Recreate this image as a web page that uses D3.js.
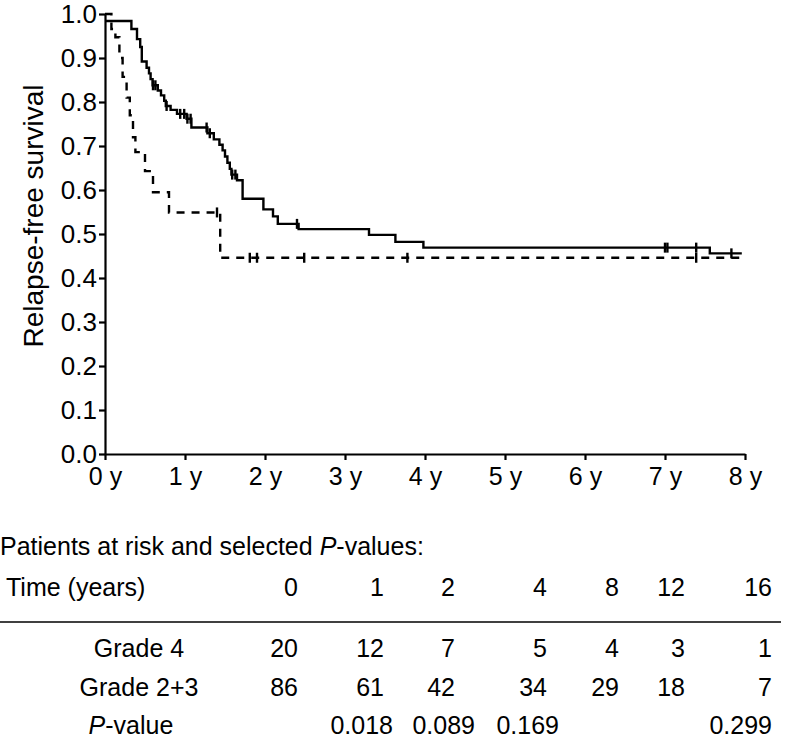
<!DOCTYPE html>
<html>
<head>
<meta charset="utf-8">
<script src="https://cdn.jsdelivr.net/npm/d3@7"></script>
<style>
  body { margin: 0; background: #fff; }
  svg text { font-family: "Liberation Sans", Arial, sans-serif; fill: #000; }
</style>
</head>
<body>
<div id="chart"></div>
<script>
// Kaplan-Meier steps (time in years, survival after the step)
const grade23Time = [0, 0.33, 0.40, 0.44, 0.46, 0.52, 0.55, 0.57, 0.595, 0.66, 0.70, 0.74, 0.76, 0.82, 0.90,
  1.02, 1.08, 1.28, 1.36, 1.43, 1.47, 1.50, 1.53, 1.56, 1.58, 1.65, 1.72, 1.98, 2.10, 2.16,
  2.42, 3.30, 3.63, 3.98, 7.56, 7.96];
const grade23Surv = [0.984, 0.966, 0.943, 0.925, 0.892, 0.878, 0.865, 0.852, 0.838, 0.826, 0.815, 0.803, 0.791, 0.782, 0.773,
  0.762, 0.742, 0.729, 0.715, 0.703, 0.690, 0.676, 0.662, 0.648, 0.635, 0.622, 0.580, 0.556, 0.540, 0.523,
  0.511, 0.498, 0.482, 0.469, 0.456, 0.456];
const grade23Censor = [0.60, 0.63, 0.77, 0.94, 0.99, 1.03, 1.07, 1.27, 1.31, 1.59, 1.63, 2.40, 7.00, 7.03, 7.39, 7.83];

const grade4Time = [0, 0.08, 0.13, 0.18, 0.22, 0.27, 0.31, 0.35, 0.38, 0.50, 0.60, 0.80, 1.44, 7.98];
const grade4Surv = [1.0, 0.966, 0.947, 0.90, 0.857, 0.81, 0.77, 0.72, 0.686, 0.643, 0.595, 0.549, 0.446, 0.446];
const grade4Censor = [1.40, 1.81, 1.90, 2.49, 3.78, 7.39];

const yearTicks = [0, 1, 2, 3, 4, 5, 6, 7, 8];
const survTicks = [0, 0.1, 0.2, 0.3, 0.4, 0.5, 0.6, 0.7, 0.8, 0.9, 1.0];

// patients at risk table
const riskTimes = ['0', '1', '2', '4', '8', '12', '16'];
const riskGrade4 = ['20', '12', '7', '5', '4', '3', '1'];
const riskGrade23 = ['86', '61', '42', '34', '29', '18', '7'];
const riskPValue = ['', '0.018', '0.089', '0.169', '', '', '0.299'];

let width = 788,
  height = 738;
const fontSize = '25px';

const svg = d3
  .select('#chart')
  .append('svg')
  .attr('width', width)
  .attr('height', height);

const x = d3.scaleLinear().domain([0, 8]).range([105, 745]);
const y = d3.scaleLinear().domain([0, 1]).range([454, 14]);

// x axis
const xAxis = svg
  .append('g')
  .attr('transform', `translate(0,${y(0)})`)
  .call(
    d3.axisBottom(x)
      .tickValues(yearTicks)
      .tickFormat((d) => `${d} y`)
      .tickSize(6)
      .tickSizeOuter(0)
      .tickPadding(7)
  );

// y axis
const yAxis = svg
  .append('g')
  .attr('transform', `translate(${x(0)},0)`)
  .call(
    d3.axisLeft(y)
      .tickValues(survTicks)
      .tickFormat(d3.format('.1f'))
      .tickSize(6)
      .tickSizeOuter(0)
      .tickPadding(2)
  );

[xAxis, yAxis].forEach((a) => {
  a.select('.domain').attr('stroke', '#000').attr('stroke-width', 2.2);
  a.selectAll('.tick line').attr('stroke', '#000').attr('stroke-width', 2.2);
  a.selectAll('.tick text').attr('fill', '#000');
});
xAxis.selectAll('.tick text').style('font-size', fontSize);
yAxis.selectAll('.tick text').style('font-size', '26px');

svg
  .append('text')
  .attr('transform', 'translate(43,216) rotate(-90)')
  .attr('text-anchor', 'middle')
  .style('font-size', '28px')
  .text('Relapse-free survival');

// survival curves
const line = d3
  .line()
  .curve(d3.curveStepAfter)
  .x((d) => x(d[0]))
  .y((d) => y(d[1]));

const survAt = (times, surv, t) => surv[d3.bisectRight(times, t) - 1];

const curves = [
  { times: grade23Time, surv: grade23Surv, censor: grade23Censor, dash: null },
  { times: grade4Time, surv: grade4Surv, censor: grade4Censor, dash: '8,7' },
];

const g = svg.append('g').attr('fill', 'none').attr('stroke', '#000').attr('stroke-width', 2.4);

curves.forEach((c) => {
  g.append('path')
    .attr('d', line(d3.zip(c.times, c.surv)))
    .attr('stroke-dasharray', c.dash);

  g.selectAll(null)
    .data(c.censor)
    .join('line')
    .attr('x1', (d) => x(d))
    .attr('x2', (d) => x(d))
    .attr('y1', (d) => y(survAt(c.times, c.surv, d)) - 5)
    .attr('y2', (d) => y(survAt(c.times, c.surv, d)) + 5);
});

// table of patients at risk
const colX = d3.scaleOrdinal()
  .domain(riskTimes)
  .range([298, 384, 455, 547, 619, 685, 772]);
// the P-values sit a little to the right of the counts
const pX = d3.scaleOrdinal()
  .domain(riskTimes)
  .range([298, 393, 475, 559, 619, 685, 772]);

const rowY = { title: 555, time: 596, grade4: 657, grade23: 696, p: 734 };

svg.append('text')
  .attr('x', 0)
  .attr('y', rowY.title)
  .style('font-size', fontSize)
  .text('Patients at risk and selected ')
  .append('tspan')
  .style('font-style', 'italic')
  .text('P')
  .append('tspan')
  .style('font-style', 'normal')
  .text('-values:');

svg.append('text')
  .attr('x', 6)
  .attr('y', rowY.time)
  .style('font-size', fontSize)
  .text('Time (years)');

svg.append('line')
  .attr('x1', 0)
  .attr('x2', 781)
  .attr('y1', 622)
  .attr('y2', 622)
  .attr('stroke', '#000')
  .attr('stroke-width', 1.6);

[
  { y: rowY.grade4, label: 'Grade 4' },
  { y: rowY.grade23, label: 'Grade 2+3' },
].forEach((r) => {
  svg.append('text')
    .attr('x', 139)
    .attr('y', r.y)
    .attr('text-anchor', 'middle')
    .style('font-size', fontSize)
    .text(r.label);
});

const pLabel = svg.append('text')
  .attr('x', 131)
  .attr('y', rowY.p)
  .attr('text-anchor', 'middle')
  .style('font-size', fontSize);
pLabel.append('tspan').style('font-style', 'italic').text('P');
pLabel.append('tspan').text('-value');

const rows = [
  { y: rowY.time, vals: riskTimes, pos: colX },
  { y: rowY.grade4, vals: riskGrade4, pos: colX },
  { y: rowY.grade23, vals: riskGrade23, pos: colX },
  { y: rowY.p, vals: riskPValue, pos: pX },
];

rows.forEach((r) => {
  svg.append('g')
    .selectAll('text')
    .data(r.vals)
    .join('text')
    .attr('x', (d, i) => r.pos(riskTimes[i]))
    .attr('y', r.y)
    .attr('text-anchor', 'end')
    .style('font-size', fontSize)
    .text((d) => d);
});
</script>
</body>
</html>
